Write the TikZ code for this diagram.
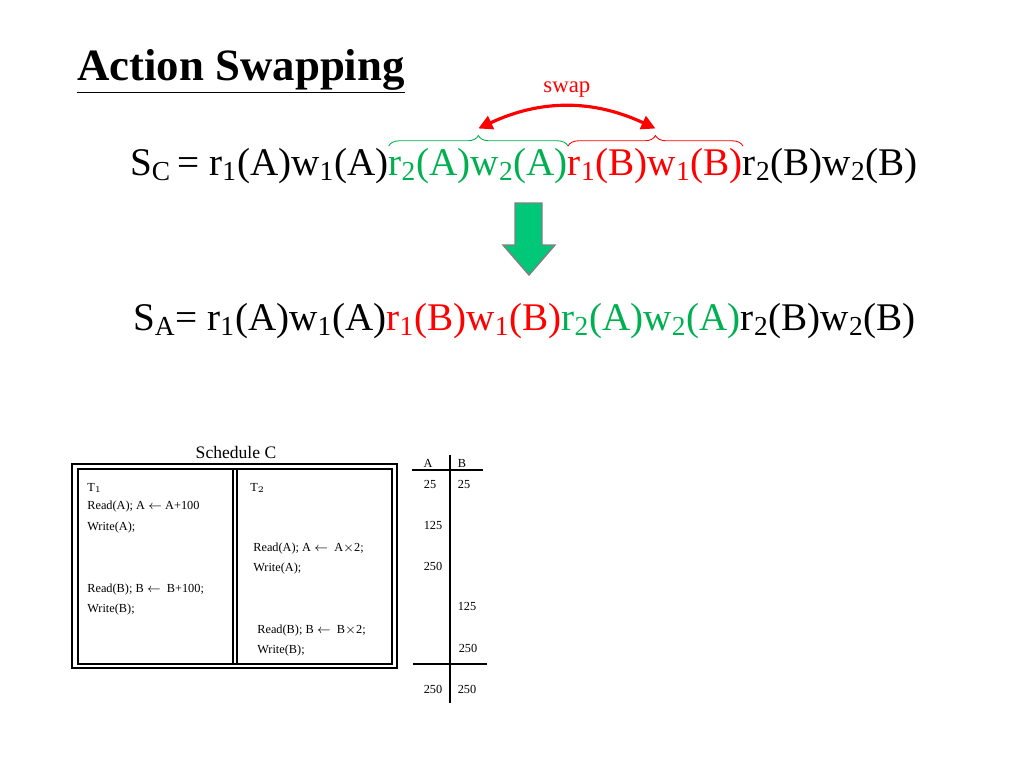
\documentclass[tikz,border=0pt]{standalone}
\usepackage{fontspec}
\setmainfont{Liberation Serif}
\usetikzlibrary{positioning, arrows.meta, decorations.pathreplacing}
\definecolor{swGreen}{RGB}{0, 176, 80}
\definecolor{swRed}{RGB}{255, 0, 0}
\definecolor{swArrow}{RGB}{0, 200, 120}
\tikzset{
    formula/.style={
        font=\fontsize{22.3}{26}\selectfont,
        inner sep=0pt,
        outer sep=0pt
    },
    cell/.style={
        font=\fontsize{7}{8}\selectfont,
        anchor=base west,
        inner sep=0pt
    },
    ledger/.style={
        font=\fontsize{7}{8}\selectfont,
        anchor=base,
        inner sep=0pt
    },
    grouping/.style={
        decorate,
        decoration={brace, amplitude=6pt},
        line width=0.5pt
    }
}
\newcommand{\rw}[3]{#1$_{\mathrm{#2}}$(#3)}
\begin{document}
\begin{tikzpicture}[x=0.02cm, y=-0.02cm]
  \useasboundingbox (0,0) rectangle (1024,768);

  % Title
  \node[anchor=base west, inner sep=0pt, font=\fontsize{25.5}{28}\selectfont\bfseries] (title) at (77,80) {\underline{Action Swapping}};

  % Schedule C formula
  \node[formula, anchor=base west] (scHead) at (130,175) {S$_{\mathrm{C}}$\,= \rw{r}{1}{A}\rw{w}{1}{A}};
  \node[formula, anchor=base west, text=swGreen] (scGreen) at (scHead.base east) {\rw{r}{2}{A}\rw{w}{2}{A}};
  \node[formula, anchor=base west, text=swRed] (scRed) at (scGreen.base east) {\rw{r}{1}{B}\rw{w}{1}{B}};
  \node[formula, anchor=base west] (scTail) at (scRed.base east) {\rw{r}{2}{B}\rw{w}{2}{B}};

  % Braces and swap arrow
  \draw[grouping, swGreen] ([yshift=1pt]scGreen.north west) -- ([yshift=1pt]scGreen.north east) coordinate[midway, yshift=7pt] (greenTip);
  \draw[grouping, swRed] ([yshift=1pt]scRed.north west) -- ([yshift=1pt]scRed.north east) coordinate[midway, yshift=7pt] (redTip);
  \draw[{Triangle[length=8pt, width=8pt]}-{Triangle[length=8pt, width=8pt]}, swRed, line width=1.8pt] ([yshift=3pt]greenTip) to[bend left=25] node[above=1pt, font=\fontsize{13}{14}\selectfont] (swapLabel) {swap} ([yshift=3pt]redTip);

  % Down arrow
  \fill[swArrow, draw=gray, line width=0.8pt] (515,203) -- (542,203) -- (542,245) -- (555,245) -- (529,275) -- (503,245) -- (515,245) -- cycle;

  % Schedule A formula
  \node[formula, anchor=base west] (saHead) at (133,330) {S$_{\mathrm{A}}$= \rw{r}{1}{A}\rw{w}{1}{A}};
  \node[formula, anchor=base west, text=swRed] (saRed) at (saHead.base east) {\rw{r}{1}{B}\rw{w}{1}{B}};
  \node[formula, anchor=base west, text=swGreen] (saGreen) at (saRed.base east) {\rw{r}{2}{A}\rw{w}{2}{A}};
  \node[formula, anchor=base west] (saTail) at (saGreen.base east) {\rw{r}{2}{B}\rw{w}{2}{B}};

  % Schedule C table
  \node[font=\fontsize{10}{12}\selectfont, inner sep=0pt] (schedName) at (236,452) {Schedule C};
  \draw[line width=0.8pt] (72,464) rectangle (397,668);
  \draw[line width=0.8pt] (78,469) rectangle (392,664);
  \draw[line width=0.6pt] (233,469) -- (233,664);
  \draw[line width=0.6pt] (237,469) -- (237,664);

  \node[cell] (tOne) at (87,491) {T$_{1}$};
  \node[cell] (tTwo) at (250,491) {T$_{2}$};
  \node[cell] (readA1) at (87,509) {Read(A); A $\leftarrow$ A+100};
  \node[cell] (writeA1) at (87,530) {Write(A);};
  \node[cell] (readA2) at (253,551) {Read(A); A $\leftarrow$\ \ A$\times$2;};
  \node[cell] (writeA2) at (253,571) {Write(A);};
  \node[cell] (readB1) at (87,592) {Read(B); B $\leftarrow$\ \ B+100;};
  \node[cell] (writeB1) at (87,612) {Write(B);};
  \node[cell] (readB2) at (257,633) {Read(B); B $\leftarrow$\ \ B$\times$2;};
  \node[cell] (writeB2) at (257,653) {Write(B);};

  % Ledger of values
  \node[ledger] (colA) at (428,467) {A};
  \node[ledger] (colB) at (462,467) {B};
  \draw[line width=0.6pt] (450,455) -- (450,703);
  \draw[line width=0.6pt] (412,470) -- (483,470);
  \draw[line width=0.6pt] (413,664) -- (487,664);
  \node[ledger] (a0) at (430,488) {25};
  \node[ledger] (b0) at (464,488) {25};
  \node[ledger] (a1) at (433,529) {125};
  \node[ledger] (a2) at (433,570) {250};
  \node[ledger] (b1) at (467,610) {125};
  \node[ledger] (b2) at (468,652) {250};
  \node[ledger] (aEnd) at (433,693) {250};
  \node[ledger] (bEnd) at (467,693) {250};
\end{tikzpicture}
\end{document}
